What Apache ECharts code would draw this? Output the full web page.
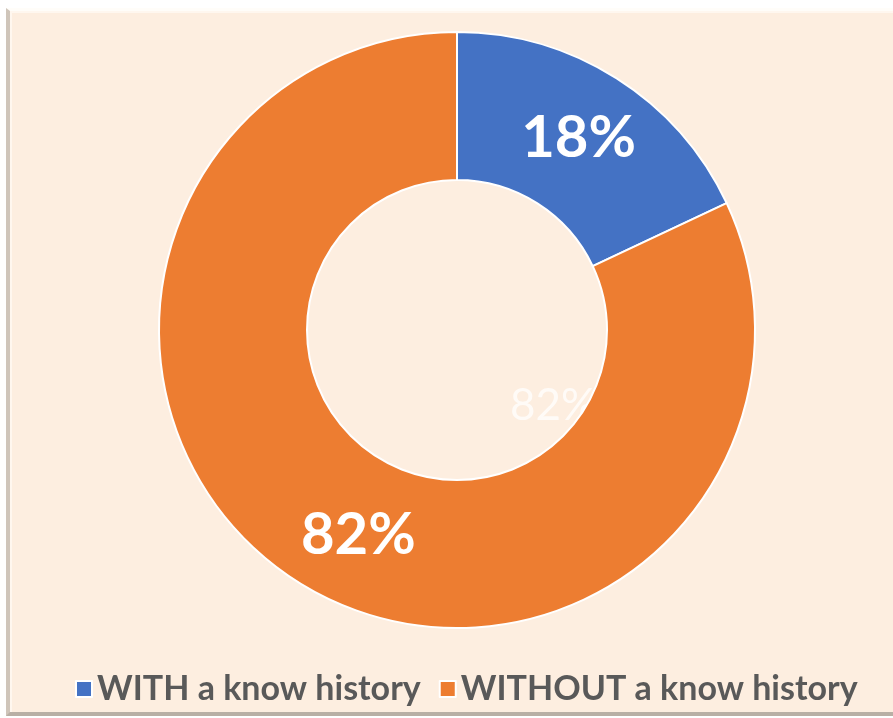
<!DOCTYPE html>
<html>
<head>
<meta charset="utf-8">
<script src="https://cdn.jsdelivr.net/npm/echarts@6/dist/echarts.min.js"></script>
<style>
  html, body { margin: 0; padding: 0; background: #ffffff; }
  #frame {
    position: absolute; left: 6px; top: 8px; width: 900px; height: 708px;
    background: #FDEEE0;
    border-top: 3px solid #fffdf9;
    border-left: 4px solid #cfc5ba;
    border-bottom: 4px solid #b9afa5;
    box-sizing: border-box;
    box-shadow: inset 2px 2px 0 #fff7ef;
  }
  #chart { position: absolute; left: 0; top: 0; width: 893px; height: 718px; }
</style>
</head>
<body>
<div id="frame"></div>
<div id="chart"></div>
<script>
// Share of cases with / without a known history
const categories = ['WITH a know history', 'WITHOUT a know history'];
const shares = [18, 82];
const colors = ['#4472C4', '#ED7D31'];

const chart = echarts.init(document.getElementById('chart'), null, { renderer: 'canvas' });

const pieData = categories.map((name, i) => ({
  name: name,
  value: shares[i],
  itemStyle: { color: colors[i] },
  label: i === 1 ? { offset: [23, 14] } : {}
}));

chart.setOption({
  backgroundColor: 'transparent',
  animation: false,
  legend: {
    top: 667,
    left: 70,
    itemWidth: 16,
    itemHeight: 16,
    itemGap: 18,
    icon: 'rect',
    textStyle: {
      color: '#595959',
      fontFamily: 'Lato',
      fontWeight: 'bold',
      fontSize: 34
    },
    data: categories
  },
  graphic: [{
    type: 'text',
    left: 510,
    top: 384,
    style: {
      text: shares[1] + '%',
      fill: 'rgba(255,255,255,0.75)',
      font: '44px Lato'
    }
  }],
  series: [{
    type: 'pie',
    center: [457, 330],
    radius: [150, 298],
    startAngle: 90,
    clockwise: true,
    itemStyle: { borderColor: '#ffffff', borderWidth: 2 },
    label: {
      show: true,
      position: 'inside',
      formatter: '{c}%',
      color: '#ffffff',
      fontFamily: 'Lato',
      fontWeight: 'bold',
      fontSize: 58
    },
    labelLine: { show: false },
    emphasis: { disabled: true },
    data: pieData
  }]
});
</script>
</body>
</html>
